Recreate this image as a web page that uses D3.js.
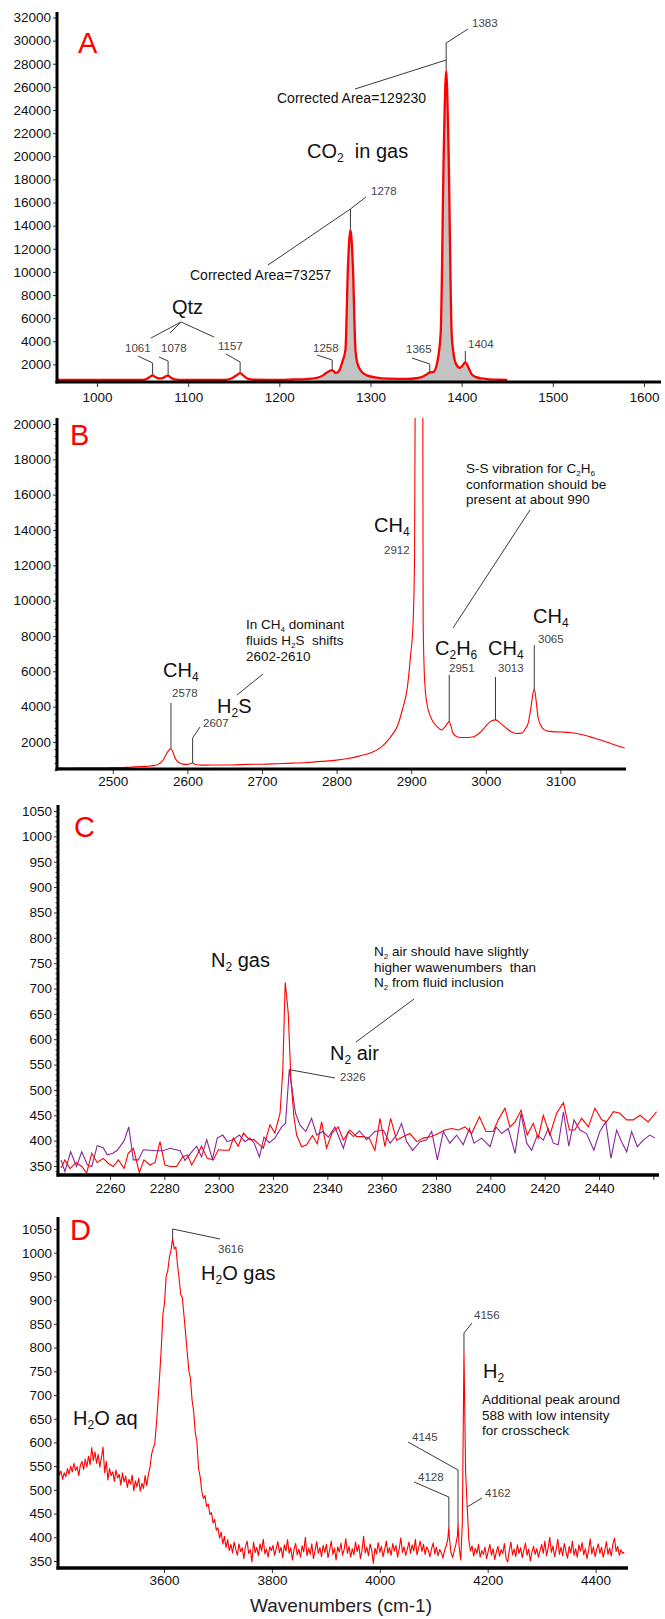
<!DOCTYPE html>
<html>
<head>
<meta charset="utf-8">
<title>Raman spectra of fluid inclusions</title>
<script src="https://cdn.jsdelivr.net/npm/d3@7/dist/d3.min.js"></script>
<style>
  html, body { margin: 0; padding: 0; background: #fff; }
  svg { display: block; font-family: "Liberation Sans", Arial, sans-serif; }
  text { white-space: pre; }
</style>
</head>
<body>
<svg id="chart" width="665" height="1619"></svg>
<script>
// ---------- Panel A: CO2 Fermi diad and quartz bands ----------
const co2Wave = [
  955, 1000, 1040, 1050, 1055, 1058, 1061, 1064, 1068, 1072, 1075, 1078, 1081, 1085, 1090,
  1140, 1148, 1152, 1157, 1161, 1165, 1172, 1200, 1215, 1230, 1240, 1248, 1253, 1258, 1262, 1266, 1269,
  1272.5, 1275.3, 1278, 1280.7, 1283.5, 1286, 1290, 1296, 1305, 1320, 1340, 1350, 1356, 1361, 1365, 1369,
  1373, 1377, 1380.5, 1383, 1385.5, 1389, 1391, 1394, 1398, 1401, 1404, 1407, 1411, 1416, 1422, 1430, 1440, 1450];
const co2Counts = [
  650, 650, 650, 660, 760, 920, 1050, 900, 780, 820, 950, 1020, 850, 700, 660,
  660, 800, 1000, 1250, 1000, 760, 670, 660, 690, 730, 820, 1050, 1350, 1500, 1250, 1500, 2200,
  3250, 10460, 13640, 10460, 3250, 2000, 1400, 1050, 880, 760, 740, 800, 900, 1100, 1300, 1350,
  2100, 4700, 21000, 27400, 21000, 4700, 3000, 2000, 1700, 1900, 2200, 1800, 1150, 900, 780, 700, 670, 660];
const co2AreaFrom = 1240, co2AreaTo = 1422, co2AreaBase = 560;
const co2PeakLabels = [1061, 1078, 1157, 1258, 1278, 1365, 1383, 1404];
const aTicksX = [1000, 1100, 1200, 1300, 1400, 1500, 1600];
const aTicksY = [2000, 4000, 6000, 8000, 10000, 12000, 14000, 16000, 18000, 20000,
  22000, 24000, 26000, 28000, 30000, 32000];

// ---------- Panel B: CH4 / C2H6 / H2S region ----------
const ch4Wave = [
  2424, 2440, 2460, 2480, 2500, 2520, 2530, 2545, 2555, 2562, 2567, 2571, 2575, 2578, 2581, 2584, 2588, 2593,
  2598, 2602, 2605, 2607, 2610, 2615, 2625, 2640, 2660, 2680, 2700, 2720, 2740, 2760, 2780, 2800,
  2815, 2830, 2845, 2858, 2868, 2876, 2882, 2888, 2895, 2899, 2902.5, 2904.5, 2905.5, 2912, 2915.5, 2916, 2918, 2921,
  2928, 2935, 2941, 2946, 2949, 2951, 2953, 2956, 2962, 2972, 2982, 2990, 2998, 3006, 3013, 3020, 3027,
  3034, 3041, 3048, 3053, 3057, 3061, 3063, 3065, 3067, 3070, 3073, 3078, 3085, 3095, 3105, 3115,
  3125, 3135, 3145, 3155, 3165, 3175, 3183, 3186];
const ch4Counts = [
  540, 530, 535, 540, 545, 560, 600, 620, 660, 760, 950, 1250, 1530, 1600, 1380, 1050, 850, 760,
  730, 740, 790, 810, 740, 700, 690, 700, 700, 730, 740, 770, 800, 840, 900, 970,
  1060, 1200, 1380, 1650, 2050, 2500, 2950, 3810, 5130, 6830, 8720, 12490, 24000, 60000, 24000, 8900, 5510, 4190,
  3240, 2860, 2680, 2900, 3080, 3150, 2950, 2500, 2280, 2250, 2280, 2450, 2800, 3150, 3250, 3050, 2800,
  2580, 2480, 2500, 2750, 3100, 4100, 4700, 5000, 4500, 3400, 3000, 2700, 2600, 2570, 2560, 2520,
  2450, 2350, 2220, 2100, 1950, 1800, 1700, 1650];
const bTicksX = [2500, 2600, 2700, 2800, 2900, 3000, 3100];
const bTicksY = [2000, 4000, 6000, 8000, 10000, 12000, 14000, 16000, 18000, 20000];

// ---------- Panel C: N2 in the inclusion (gas) and in air ----------
const n2AirWave = [
  2242.0, 2243.4, 2245.5, 2247.7, 2249.6, 2251.7, 2253.3, 2255.3, 2257.5, 2259.0,
  2261.0, 2262.7, 2265.2, 2266.9, 2268.6, 2270.4, 2272.3, 2274.7, 2277.2, 2279.6,
  2282.1, 2285.8, 2287.6, 2290.1, 2291.9, 2293.7, 2295.6, 2297.7, 2299.5, 2301.5,
  2303.2, 2305.4, 2307.6, 2309.7, 2311.5, 2313.0, 2315.0, 2316.7, 2318.6, 2320.7,
  2323.2, 2324.6, 2326.0, 2328.3, 2329.9, 2332.1, 2334.2, 2336.1, 2338.3, 2340.4, 2342.8,
  2345.9, 2347.7, 2349.6, 2351.8, 2354.5, 2357.5, 2360.6, 2363.1, 2365.5, 2367.3,
  2369.2, 2371.4, 2374.1, 2376.5, 2378.4, 2380.5, 2382.7, 2385.1, 2387.6, 2390.0,
  2392.3, 2394.0, 2396.8, 2399.9, 2402.1, 2404.2, 2406.6, 2409.1, 2411.3, 2413.4,
  2415.2, 2417.3, 2419.5, 2421.3, 2423.2, 2425.0, 2426.9, 2428.9, 2430.8, 2433.0,
  2435.4, 2438.1, 2440.3, 2442.5, 2444.4, 2446.5, 2448.3, 2450.2, 2452.0, 2454.1,
  2456.3, 2458.7, 2460.6];
const n2AirCounts = [
  362, 339, 378, 349, 378, 352, 349, 390, 386, 372,
  375, 381, 400, 427, 362, 362, 382, 381, 380, 380,
  385, 380, 361, 378, 389, 368, 402, 363, 405, 411,
  398, 402, 411, 398, 405, 396, 368, 407, 396, 405,
  427, 434, 540, 454, 431, 418, 444, 411, 418, 407, 427,
  385, 418, 408, 419, 402, 418, 421, 395, 411, 434,
  398, 381, 398, 401, 418, 362, 418, 395, 411, 392,
  424, 395, 405, 388, 427, 414, 424, 375, 454, 395,
  381, 411, 401, 424, 395, 392, 457, 389, 441, 421,
  414, 381, 418, 437, 365, 421, 398, 378, 418, 388,
  401, 411, 405];
const n2GasWave = [
  2242.0, 2243.4, 2245.3, 2247.5, 2249.6, 2251.4, 2253.3, 2255.3, 2257.5, 2259.4,
  2261.2, 2263.1, 2265.2, 2266.7, 2268.6, 2270.8, 2272.5, 2274.7, 2276.6, 2278.4,
  2280.2, 2282.1, 2284.5, 2286.7, 2288.5, 2290.1, 2292.1, 2293.7, 2295.8, 2298.0,
  2299.9, 2302.0, 2303.9, 2305.4, 2307.2, 2309.1, 2311.3, 2313.0, 2315.0, 2316.4,
  2318.9, 2320.7, 2322.6, 2323.6, 2324.5, 2325.6, 2326.6, 2327.7, 2328.7, 2330.5,
  2332.4, 2334.5, 2336.3, 2337.9, 2339.7, 2341.8, 2344.0,
  2345.9, 2348.3, 2350.8, 2353.2, 2355.4, 2357.5, 2359.4, 2361.2, 2363.3, 2365.5,
  2368.0, 2370.4, 2372.9, 2375.3, 2378.4, 2380.8, 2383.3, 2385.8, 2388.2, 2390.7,
  2393.1, 2396.0, 2398.4, 2401.1, 2402.9, 2405.4, 2407.2, 2409.1, 2411.3, 2413.6,
  2415.8, 2417.6, 2419.5, 2421.9, 2424.4, 2426.9, 2429.1, 2431.1, 2433.6, 2436.1,
  2438.5, 2441.0, 2442.8, 2445.3, 2447.7, 2450.2, 2452.6, 2455.1, 2458.1, 2461.2];
const n2GasCounts = [
  346, 362, 345, 357, 349, 336, 375, 357, 365, 355,
  349, 362, 345, 375, 385, 337, 362, 352, 357, 398,
  352, 349, 349, 368, 372, 352, 372, 389, 365, 362,
  382, 381, 381, 405, 389, 415, 402, 402, 392, 385,
  431, 415, 454, 539, 712, 652, 520, 447, 411, 388,
  392, 410, 394, 437, 385, 416, 427,
  401, 421, 408, 408, 405, 381, 444, 388, 444, 401,
  408, 414, 398, 405, 408, 414, 421, 424, 421, 427,
  414, 447, 418, 418, 441, 464, 427, 437, 460, 411,
  434, 405, 450, 411, 454, 475, 421, 421, 444, 427,
  464, 441, 437, 457, 454, 441, 441, 450, 437, 457];
const n2AirPeak = 2326;
const cTicksX = [2260, 2280, 2300, 2320, 2340, 2360, 2380, 2400, 2420, 2440, 2460];
const cTicksY = [350, 400, 450, 500, 550, 600, 650, 700, 750, 800, 850, 900, 950, 1000, 1050];

// ---------- Panel D: H2O and H2 region (sampled every 3 cm-1 from 3403) ----------
const h2oWaveStart = 3403, h2oWaveStep = 3;
const h2oCounts = [
  548, 531, 540, 522, 536, 528, 545, 533, 550, 538,   // 3403
  556, 541, 549, 530, 552, 560, 543, 565, 548, 571,   // 3433
  553, 589, 562, 580, 556, 575, 548, 568, 590, 536,   // 3463
  560, 521, 545, 530, 538, 518, 542, 525, 533, 510,   // 3493
  536, 517, 529, 505, 522, 512, 531, 498, 519, 506,   // 3523
  525, 497, 514, 503, 530, 509, 532, 548, 575, 588,   // 3553
  598, 640, 690, 742, 800, 870, 895, 950, 962, 990,   // 3583
  1005, 1030, 1008, 1012, 975, 945, 912, 905, 868, 830, // 3613
  790, 752, 735, 690, 665, 620, 602, 545, 528, 498,   // 3643
  482, 488, 465, 470, 448, 452, 430, 438, 415, 420,   // 3673
  398, 411, 386, 402, 378, 395, 372, 385, 367, 390,   // 3703
  375, 362, 386, 370, 378, 355, 381, 392, 366, 374,   // 3733
  348, 390, 368, 379, 361, 386, 371, 396, 365, 375,   // 3763
  358, 380, 372, 383, 362, 376, 391, 368, 379, 357,   // 3793
  384, 371, 395, 366, 378, 352, 374, 387, 363, 375,   // 3823
  358, 382, 369, 400, 361, 377, 364, 386, 355, 372,   // 3853
  391, 366, 378, 359, 383, 368, 385, 357, 373, 392,   // 3883
  364, 377, 352, 380, 369, 388, 362, 375, 397, 366,   // 3913
  381, 358, 376, 363, 390, 370, 384, 355, 372, 402,   // 3943
  367, 379, 361, 386, 373, 345, 377, 365, 389, 368,   // 3973
  381, 359, 374, 392, 366, 378, 362, 387, 371, 383,   // 4003
  358, 376, 399, 368, 380, 362, 375, 390, 366, 384,   // 4033
  371, 396, 363, 378, 392, 370, 385, 364, 380, 372,   // 4063
  359, 376, 388, 365, 379, 361, 374, 368, 356, 372,   // 4093
  381, 396, 398, 368, 357, 372, 385, 404, 381, 352,   // 4123
  430, 791, 540, 464, 395, 371, 382, 360, 377, 366,   // 4153
  385, 358, 372, 364, 379, 355, 371, 385, 362, 376,   // 4183
  353, 369, 381, 360, 374, 366, 387, 355, 348, 372,   // 4213
  390, 363, 375, 359, 384, 366, 378, 357, 373, 388,   // 4243
  362, 375, 350, 369, 381, 364, 376, 358, 372, 385,   // 4273
  366, 392, 361, 377, 400, 368, 382, 359, 375, 396,   // 4303
  364, 379, 361, 387, 370, 356, 381, 367, 392, 362,   // 4333
  376, 358, 384, 371, 389, 363, 376, 355, 372, 397,   // 4363
  365, 380, 359, 374, 386, 366, 379, 358, 372, 391,   // 4393
  364, 377, 360, 385, 398, 370, 381, 362, 374, 366,   // 4423
  369];                                               // 4453
const h2SpikeWave = [4128, 4145];
const h2SpikeCounts = [422, 429];
const dTicksX = [3600, 3800, 4000, 4200, 4400];
const dTicksY = [350, 400, 450, 500, 550, 600, 650, 700, 750, 800, 850, 900, 950, 1000, 1050];

// ---------- drawing ----------
const svg = d3.select("#chart");
const defs = svg.append("defs");
const RED = "#ff0000", PURPLE = "#86289a", LEAD = "#3a3a3a";

function frame(p) {
  const g = svg.append("g");
  defs.append("clipPath").attr("id", "clip" + p.id)
    .append("rect").attr("x", p.x0).attr("y", p.yTop)
    .attr("width", p.xEnd - p.x0).attr("height", p.yBot - p.yTop);
  const plot = g.append("g").attr("clip-path", `url(#clip${p.id})`);
  const axes = g.append("g");
  if (p.yMinor) {
    axes.append("g").attr("transform", `translate(${p.x0},0)`)
      .call(d3.axisLeft(p.y).tickValues(p.yMinor).tickSize(2.5).tickFormat(() => ""))
      .call(s => s.select(".domain").remove());
  }
  const gy = axes.append("g").attr("transform", `translate(${p.x0},0)`)
    .call(d3.axisLeft(p.y).tickValues(p.yTicks).tickSize(4).tickPadding(2).tickFormat(d3.format("d")));
  gy.select(".domain").remove();
  gy.attr("font-family", null).attr("font-size", 13.5);
  const gx = axes.append("g").attr("transform", `translate(0,${p.yBot})`)
    .call(d3.axisBottom(p.x).tickValues(p.xTicks).tickSize(5).tickPadding(p.xPad)
      .tickFormat(p.xFormat || d3.format("d")));
  gx.select(".domain").remove();
  gx.attr("font-family", null).attr("font-size", 13.5);
  axes.selectAll(".tick line").attr("stroke", "#333");
  axes.selectAll(".tick text").attr("fill", "#111");
  axes.append("line").attr("x1", p.x0).attr("x2", p.x0).attr("y1", p.yTop).attr("y2", p.yBot + 1.5)
    .attr("stroke", "#000").attr("stroke-width", 3);
  axes.append("line").attr("x1", p.x0 - 1.5).attr("x2", p.xEnd).attr("y1", p.yBot).attr("y2", p.yBot)
    .attr("stroke", "#000").attr("stroke-width", p.xAxisWidth || 3);
  g.append("text").attr("x", p.letterX).attr("y", p.letterY).attr("font-size", 29)
    .attr("fill", RED).text(p.letter);
  return { g, plot };
}

// text with chemical subscripts: plain strings, or [string] for a subscript run
function chem(g, x, y, parts, size, fill) {
  const t = g.append("text").attr("x", x).attr("y", y).attr("font-size", size)
    .attr("fill", fill || "#111");
  let inSub = false;
  parts.forEach(part => {
    const isSub = Array.isArray(part);
    const ts = t.append("tspan").text(isSub ? part[0] : part);
    if (isSub) ts.attr("font-size", size * 0.6).attr("dy", inSub ? 0 : size * 0.2);
    else if (inSub) ts.attr("dy", -size * 0.2);
    inSub = isSub;
  });
  return t;
}
function num(g, x, y, s) {
  g.append("text").attr("x", x).attr("y", y).attr("font-size", 11.5).attr("fill", "#444").text(s);
}
function lead(g, pts) {
  g.append("path").attr("d", d3.line()(pts)).attr("fill", "none")
    .attr("stroke", LEAD).attr("stroke-width", 1);
}
const valueAt = (waves, counts, w) => counts[waves.indexOf(w)];

// ===== Panel A =====
const xA = d3.scaleLinear().domain([1000, 1600]).range([97, 644]);
const yA = d3.scaleLinear().domain([0, 32000]).range([387.5, 17.5]);
const pA = frame({ id: "A", x: xA, y: yA, x0: 57, xEnd: 661, yTop: 12, yBot: 382,
  xTicks: aTicksX, yTicks: aTicksY, xPad: 5.5, letter: "A", letterX: 78, letterY: 53 });
const co2 = co2Wave.map((w, i) => [w, co2Counts[i]]);
pA.plot.append("path")
  .datum(co2.filter(d => d[0] >= co2AreaFrom && d[0] <= co2AreaTo))
  .attr("fill", "#c3c3c3")
  .attr("d", d3.area().x(d => xA(d[0])).y0(yA(co2AreaBase)).y1(d => yA(d[1])).curve(d3.curveMonotoneX));
pA.plot.append("path").datum(co2)
  .attr("fill", "none").attr("stroke", RED).attr("stroke-width", 2.3).attr("stroke-linejoin", "round")
  .attr("d", d3.line().x(d => xA(d[0])).y(d => yA(d[1])).curve(d3.curveMonotoneX));

const annA = svg.append("g");
const aTop = w => yA(valueAt(co2Wave, co2Counts, w)) - 1;
const aLabelPos = {
  1061: { t: [125, 352], p: [[138, 356], [null, 363]] },
  1078: { t: [161, 352], p: [[159, 357], [null, 361]] },
  1157: { t: [218, 350], p: [[226, 354], [null, 362]] },
  1258: { t: [313, 352], p: [[317, 355], [null, 360]] },
  1278: { t: [371, 195], p: [[366, 197], [null, 209]] },
  1365: { t: [406, 353], p: [[412, 358], [null, 364]] },
  1383: { t: [472, 27], p: [[468, 29], [null, 43]] },
  1404: { t: [468, 348], p: [[null, 351]] }
};
co2PeakLabels.forEach(w => {
  const L = aLabelPos[w];
  const px = xA(w);
  const pts = L.p.map(([x, y]) => [x === null ? px : x, y]);
  pts.push([px, aTop(w)]);
  lead(annA, pts);
  num(annA, L.t[0], L.t[1], String(w));
});
annA.append("text").attr("x", 277).attr("y", 103).attr("font-size", 14).attr("fill", "#111")
  .text("Corrected Area=129230");
lead(annA, [[355, 89], [xA(1383), 60]]);
annA.append("text").attr("x", 190).attr("y", 280).attr("font-size", 14).attr("fill", "#111")
  .text("Corrected Area=73257");
lead(annA, [[268, 265], [xA(1278), 209]]);
chem(annA, 307, 158, ["CO", ["2"], "  in gas"], 20);
annA.append("text").attr("x", 172).attr("y", 314).attr("font-size", 20).attr("fill", "#111").text("Qtz");
lead(annA, [[181, 322], [151, 338]]);
lead(annA, [[181, 322], [170, 333]]);
lead(annA, [[181, 322], [214, 337]]);

// ===== Panel B =====
const xB = d3.scaleLinear().domain([2500, 3100]).range([112.8, 560.4]);
const yB = d3.scaleLinear().domain([0, 20000]).range([777.3, 424]);
const pB = frame({ id: "B", x: xB, y: yB, x0: 57, xEnd: 626, yTop: 418, yBot: 769,
  xTicks: bTicksX, yTicks: bTicksY, yMinor: d3.range(400, 20400, 400).filter(v => v % 2000),
  xPad: 2, letter: "B", letterX: 70, letterY: 445 });
pB.plot.append("path").datum(ch4Wave.map((w, i) => [w, ch4Counts[i]]))
  .attr("fill", "none").attr("stroke", RED).attr("stroke-width", 1.1)
  .attr("d", d3.line().x(d => xB(d[0])).y(d => yB(d[1])).curve(d3.curveMonotoneX));

const annB = svg.append("g");
const bTop = w => yB(valueAt(ch4Wave, ch4Counts, w));
chem(annB, 163, 677, ["CH", ["4"]], 20);
num(annB, 172, 697, "2578");
lead(annB, [[xB(2578), 703], [xB(2578), bTop(2578)]]);
chem(annB, 217, 713, ["H", ["2"], "S"], 20);
num(annB, 203, 727, "2607");
lead(annB, [[200, 727], [xB(2607), 738], [xB(2607), bTop(2607)]]);
chem(annB, 246, 629, ["In CH", ["4"], " dominant"], 13.5);
chem(annB, 246, 645, ["fluids H", ["2"], "S  shifts"], 13.5);
chem(annB, 246, 661, ["2602-2610"], 13.5);
lead(annB, [[237, 695], [263, 674]]);
chem(annB, 374, 532, ["CH", ["4"]], 20);
num(annB, 384, 554, "2912");
chem(annB, 466, 473, ["S-S vibration for C", ["2"], "H", ["6"]], 13.5);
chem(annB, 466, 489, ["conformation should be"], 13.5);
chem(annB, 466, 504, ["present at about 990"], 13.5);
lead(annB, [[530, 510], [453, 628]]);
chem(annB, 435, 655, ["C", ["2"], "H", ["6"]], 20);
num(annB, 449, 672, "2951");
lead(annB, [[xB(2951), 675], [xB(2951), bTop(2951)]]);
chem(annB, 488, 655, ["CH", ["4"]], 20);
num(annB, 498, 672, "3013");
lead(annB, [[xB(3013), 677], [xB(3013), bTop(3013)]]);
chem(annB, 533, 623, ["CH", ["4"]], 20);
num(annB, 538, 643, "3065");
lead(annB, [[xB(3065), 645], [xB(3065), bTop(3065)]]);

// ===== Panel C =====
const xC = d3.scaleLinear().domain([2260, 2440]).range([110, 599]);
const yC = d3.scaleLinear().domain([350, 1050]).range([1166, 811]);
const pC = frame({ id: "C", x: xC, y: yC, x0: 58, xEnd: 659, yTop: 805, yBot: 1175,
  xTicks: cTicksX, yTicks: cTicksY, yMinor: d3.range(340, 1060, 10).filter(v => v % 50),
  xPad: 3.5, xFormat: d => (d > 2440 ? "" : d), xAxisWidth: 3.5,
  letter: "C", letterX: 74, letterY: 837 });
const lineC = d3.line().x(d => xC(d[0])).y(d => yC(d[1]));
pC.plot.append("path").datum(n2AirWave.map((w, i) => [w, n2AirCounts[i]]))
  .attr("fill", "none").attr("stroke", PURPLE).attr("stroke-width", 1.1).attr("d", lineC);
pC.plot.append("path").datum(n2GasWave.map((w, i) => [w, n2GasCounts[i]]))
  .attr("fill", "none").attr("stroke", RED).attr("stroke-width", 1.1).attr("d", lineC);

const annC = svg.append("g");
chem(annC, 211, 967, ["N", ["2"], " gas"], 20);
chem(annC, 330, 1060, ["N", ["2"], " air"], 20);
num(annC, 340, 1081, String(n2AirPeak));
lead(annC, [[xC(n2AirPeak), yC(valueAt(n2AirWave, n2AirCounts, n2AirPeak))], [335, 1078]]);
chem(annC, 374, 956, ["N", ["2"], " air should have slightly"], 13.5);
chem(annC, 374, 972, ["higher wawenumbers  than"], 13.5);
chem(annC, 374, 987, ["N", ["2"], " from fluid inclusion"], 13.5);
lead(annC, [[414, 999], [356, 1042]]);

// ===== Panel D =====
const xD = d3.scaleLinear().domain([3600, 4400]).range([164, 595.6]);
const yD = d3.scaleLinear().domain([350, 1050]).range([1561, 1229]);
const pD = frame({ id: "D", x: xD, y: yD, x0: 58, xEnd: 628, yTop: 1217, yBot: 1568,
  xTicks: dTicksX, yTicks: dTicksY, xPad: 2, xAxisWidth: 3.5,
  letter: "D", letterX: 70, letterY: 1240 });
const h2o = h2oCounts.map((c, i) => [h2oWaveStart + i * h2oWaveStep, c])
  .concat(h2SpikeWave.map((w, i) => [w, h2SpikeCounts[i]]))
  .sort((a, b) => a[0] - b[0]);
pD.plot.append("path").datum(h2o)
  .attr("fill", "none").attr("stroke", RED).attr("stroke-width", 1.1).attr("stroke-linejoin", "round")
  .attr("d", d3.line().x(d => xD(d[0])).y(d => yD(d[1])));

const annD = svg.append("g");
const dTop = w => yD(h2o.find(d => d[0] === w)[1]);
lead(annD, [[xD(3616), dTop(3616)], [xD(3616), 1229], [220, 1239]]);
num(annD, 218, 1253, "3616");
chem(annD, 201, 1280, ["H", ["2"], "O gas"], 20);
chem(annD, 73, 1425, ["H", ["2"], "O aq"], 20);
lead(annD, [[xD(4156), dTop(4156)], [xD(4156), 1333], [472, 1323]]);
num(annD, 474, 1319, "4156");
chem(annD, 483, 1378, ["H", ["2"]], 20);
chem(annD, 482, 1404, ["Additional peak around"], 13.5);
chem(annD, 482, 1420, ["588 with low intensity"], 13.5);
chem(annD, 482, 1435, ["for crosscheck"], 13.5);
num(annD, 412, 1441, "4145");
lead(annD, [[408, 1442], [xD(4145), 1470], [xD(4145), dTop(4145)]]);
num(annD, 418, 1481, "4128");
lead(annD, [[414, 1482], [xD(4128), 1497], [xD(4128), dTop(4128)]]);
num(annD, 485, 1497, "4162");
lead(annD, [[xD(4162), dTop(4162)], [482, 1498]]);

svg.append("text").attr("x", 341).attr("y", 1612).attr("text-anchor", "middle")
  .attr("font-size", 19).attr("fill", "#222").text("Wavenumbers (cm-1)");
</script>
</body>
</html>
